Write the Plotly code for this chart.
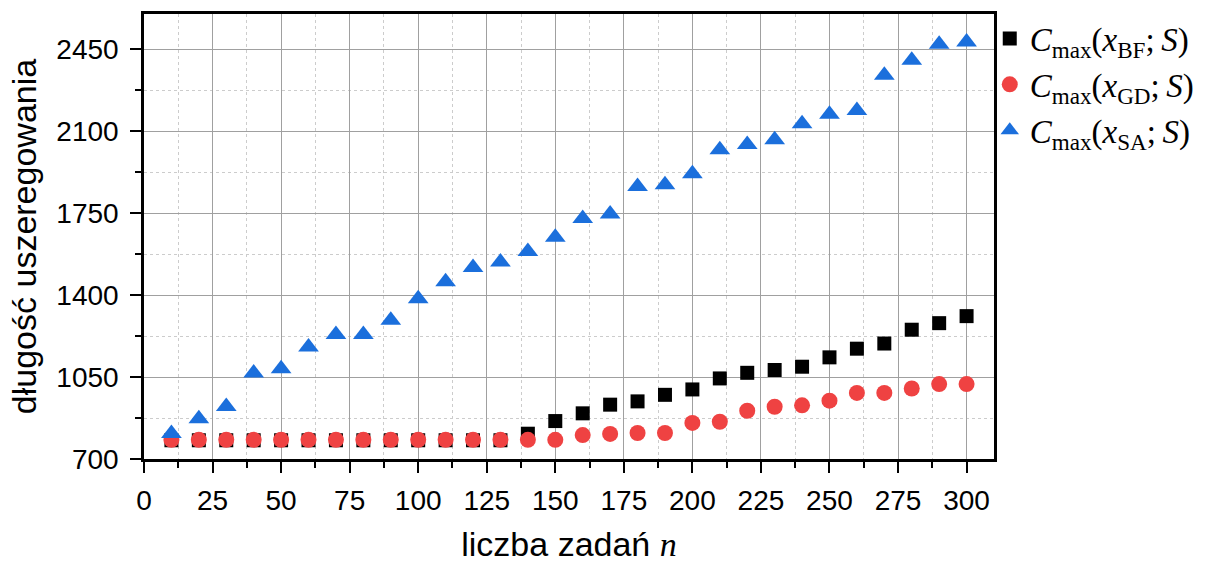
import plotly.graph_objects as go

# Number of jobs n
n_jobs = [10, 20, 30, 40, 50, 60, 70, 80, 90, 100, 110, 120, 130, 140, 150,
          160, 170, 180, 190, 200, 210, 220, 230, 240, 250, 260, 270, 280, 290, 300]

# Makespan of the brute-force schedule
cmax_bf = [780, 780, 780, 780, 780, 780, 780, 780, 780, 780, 780, 780, 780, 808, 862,
           895, 932, 946, 974, 997, 1044, 1068, 1080, 1094, 1134, 1171, 1193, 1252, 1280, 1310]

# Makespan of the greedy schedule
cmax_gd = [782, 782, 782, 782, 782, 782, 782, 782, 782, 782, 782, 782, 782, 782, 782,
           802, 807, 811, 811, 854, 859, 906, 923, 929, 949, 982, 982, 1001, 1020, 1020]

# Makespan of the simulated-annealing schedule
cmax_sa = [809, 872, 924, 1067, 1085, 1178, 1232, 1232, 1292, 1384, 1457, 1518, 1541, 1586, 1647,
           1727, 1746, 1863, 1871, 1918, 2020, 2043, 2063, 2131, 2172, 2188, 2339, 2403, 2471, 2480]

x_tickvals = [0, 25, 50, 75, 100, 125, 150, 175, 200, 225, 250, 275, 300]
y_tickvals = [700, 1050, 1400, 1750, 2100, 2450]

SERIF = "Liberation Serif"
SANS = "Liberation Sans, Arial, sans-serif"


def label(sub):
    return ("<i>C</i><sub>max</sub>(<i>x</i><sub>" + sub + "</sub>;\u2009<i>S</i>)")


fig = go.Figure()
fig.add_trace(go.Scatter(
    x=n_jobs, y=cmax_bf, mode="markers", name=label("BF"),
    marker=dict(symbol="square", size=14, color="#000000"),
))
fig.add_trace(go.Scatter(
    x=n_jobs, y=cmax_gd, mode="markers", name=label("GD"),
    marker=dict(symbol="circle", size=16, color="#ef4242"),
))
fig.add_trace(go.Scatter(
    x=n_jobs, y=cmax_sa, mode="markers", name=label("SA"),
    marker=dict(symbol="triangle-up", size=18, color="#1b6fdc"),
))

axis_common = dict(
    showline=True, linecolor="#000000", linewidth=2.5, mirror=True,
    ticks="outside", ticklen=11, tickwidth=2.2, tickcolor="#000000",
    showgrid=True, gridcolor="#a0a0a0", gridwidth=1.2,
    zeroline=False,
    tickfont=dict(family=SANS, size=28, color="#000000"),
)

fig.update_xaxes(
    range=[0, 310], tickmode="array", tickvals=x_tickvals,
    minor=dict(dtick=12.5, tick0=0, ticks="outside", ticklen=6, tickwidth=2,
               tickcolor="#000000", showgrid=True, gridcolor="#cccccc",
               gridwidth=1, griddash="3px,3px"),
    title=dict(text="liczba zadań <span style=\"font-family:'Liberation Serif'\"><i>n</i></span>",
               font=dict(family=SANS, size=34, color="#000000"), standoff=21),
    ticklabelstandoff=4,
    **axis_common,
)
fig.update_yaxes(
    range=[700, 2600], tickmode="array", tickvals=y_tickvals,
    minor=dict(dtick=175, tick0=700, ticks="outside", ticklen=6, tickwidth=2,
               tickcolor="#000000", showgrid=True, gridcolor="#cccccc",
               gridwidth=1, griddash="3px,3px"),
    title=dict(text="długość uszeregowania",
               font=dict(family=SANS, size=34, color="#000000"), standoff=10),
    ticklabelstandoff=6,
    **axis_common,
)

fig.update_layout(
    width=1225, height=563,
    margin=dict(l=144, r=231, t=14, b=104, autoexpand=False),
    paper_bgcolor="#ffffff", plot_bgcolor="#ffffff",
    font=dict(family=SANS, color="#000000"),
    showlegend=True,
    legend=dict(
        x=0.995, xanchor="left", y=1.008, yanchor="top",
        bgcolor="rgba(0,0,0,0)", borderwidth=0,
        font=dict(family=SERIF, size=33, color="#000000"),
        itemsizing="trace",
    ),
)

fig.write_html("out.html")
